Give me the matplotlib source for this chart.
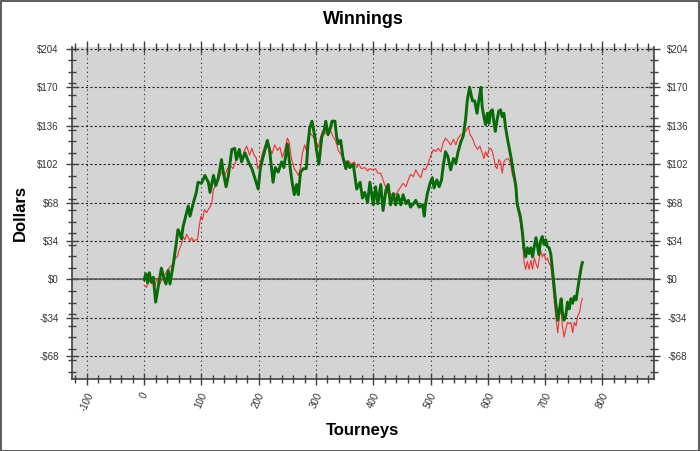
"""
Winnings chart: cumulative dollars per tourney, two series.
"""

import matplotlib
matplotlib.use('Agg')
import matplotlib.pyplot as plt
from matplotlib.patches import Rectangle
from matplotlib.ticker import MultipleLocator, FuncFormatter

plt.rcParams['font.family'] = ['Liberation Sans', 'DejaVu Sans']
plt.rcParams['axes.unicode_minus'] = False

# green series (thick) - tourney number / dollars
green_t = [0, 3, 6, 9, 12, 16, 20, 25, 30, 34, 38, 42, 45, 51, 56, 59, 62, 65, 68, 74,
           77, 80, 86, 91, 94, 100, 106, 112, 115, 121, 125, 129, 135, 138, 143, 147,
           153, 158, 161, 166, 170, 176, 182, 188, 193, 199, 203, 209, 215, 219, 225,
           229, 234, 240, 244, 250, 254, 258, 262, 266, 269, 273, 278, 283, 286, 289,
           293, 298, 301, 305, 310, 314, 317, 321, 325, 328, 333, 336, 339, 343, 347,
           352, 355, 359, 365, 371, 377, 381, 385, 390, 394, 400, 404, 408, 413, 417,
           422, 426, 430, 435, 439, 443, 448, 452, 457, 461, 465, 470, 474, 480, 486,
           489, 491, 494, 499, 503, 506, 511, 515, 519, 522, 526, 530, 535, 540, 544,
           548, 553, 557, 561, 564, 568, 573, 577, 581, 585, 588, 590, 593, 596, 599,
           602, 605, 608, 611, 613, 616, 619, 622, 625, 628, 631, 634, 637, 640, 643,
           646, 649, 651, 654, 657, 660, 663, 666, 669, 672, 675, 678, 681, 684, 687,
           689, 692, 695, 698, 701, 704, 707, 710, 713, 716, 719, 722, 725, 728, 730,
           733, 736, 739, 742, 745, 748, 751, 754, 757, 760, 763, 765]
green_v = [0, 5, -3, 6, -2, 2, -20, -5, 10, 2, -4, 8, -4, 14, 32, 44, 41, 36, 47, 59,
           65, 56, 68, 77, 86, 85, 92, 86, 77, 92, 83, 89, 106, 95, 82, 92,
           115, 116, 106, 115, 104, 112, 104, 98, 90, 80, 99, 111, 123, 114, 86,
           99, 95, 104, 99, 120, 102, 87, 75, 84, 75, 95, 98, 98, 120, 134,
           140, 126, 114, 102, 126, 131, 140, 128, 134, 140, 140, 126, 120, 123, 108,
           98, 104, 99, 102, 80, 86, 72, 77, 68, 86, 66, 82, 67, 84, 61,
           79, 84, 66, 76, 66, 75, 66, 75, 67, 70, 64, 67, 70, 64, 66,
           56, 66, 75, 85, 90, 81, 88, 82, 88, 100, 113, 109, 97, 107, 103,
           113, 122, 127, 141, 158, 170, 158, 158, 147, 161, 170, 153, 144, 137, 147,
           138, 149, 150, 137, 131, 141, 149, 150, 144, 147, 134, 125, 117, 109, 100,
           91, 82, 67, 61, 55, 43, 28, 20, 28, 23, 28, 20, 29, 37, 28,
           22, 34, 38, 31, 35, 29, 28, 22, 7, -8, -23, -36, -26, -17, -29,
           -36, -32, -20, -26, -17, -21, -15, -18, -8, 2, 11, 15]

# red series (thin)
red_t = [0, 4, 7, 10, 13, 16, 19, 22, 27, 33, 39, 45, 51, 54, 58, 61, 65, 68, 71, 74,
         77, 80, 83, 86, 89, 93, 96, 99, 102, 105, 109, 112, 115, 118, 121, 124, 126,
         130, 135, 141, 145, 150, 155, 161, 166, 170, 174, 179, 184, 188, 192, 196,
         198, 202, 206, 210, 215, 219, 223, 228, 233, 237, 241, 245, 250, 253, 257,
         262, 266, 269, 273, 276, 280, 283, 286, 291, 295, 299, 304, 308, 312, 317,
         321, 326, 330, 334, 339, 343, 347, 352, 356, 362, 367, 371, 375, 379, 385,
         390, 394, 400, 404, 408, 413, 417, 422, 426, 430, 435, 439, 443, 448, 452,
         457, 461, 465, 470, 474, 478, 483, 487, 491, 496, 500, 505, 509, 513, 518,
         522, 526, 531, 535, 540, 544, 548, 553, 557, 561, 566, 569, 573, 577, 582,
         586, 590, 593, 596, 599, 602, 605, 608, 611, 613, 616, 619, 622, 625, 628,
         631, 634, 637, 640, 643, 646, 649, 651, 654, 657, 660, 663, 666, 669, 672,
         675, 678, 681, 684, 687, 689, 692, 695, 698, 701, 704, 707, 710, 713, 716,
         719, 722, 725, 728, 730, 733, 736, 739, 742, 745, 748, 751, 754, 757, 760,
         763, 765]
red_v = [-5, -7, -2, 1, -4, -2, -6, 1, -4, 1, 7, 11, 14, 19, 20, 26, 31, 38, 35, 40,
         37, 34, 37, 34, 35, 35, 47, 56, 53, 62, 59, 62, 64, 68, 80, 82, 86,
         89, 95, 92, 98, 101, 98, 106, 110, 104, 113, 118, 110, 116, 110, 107,
         98, 102, 111, 117, 123, 117, 111, 119, 114, 117, 108, 114, 125, 122, 107,
         98, 95, 92, 99, 111, 119, 114, 126, 129, 126, 123, 117, 126, 132, 129,
         132, 131, 126, 123, 114, 111, 108, 104, 105, 102, 104, 99, 102, 98, 99,
         96, 98, 97, 98, 94, 94, 88, 81, 76, 75, 76, 75, 78, 82, 85,
         82, 88, 93, 91, 97, 93, 90, 98, 97, 103, 109, 115, 113, 116, 113,
         121, 125, 122, 119, 124, 119, 125, 128, 129, 131, 135, 128, 125, 119, 115,
         118, 112, 107, 113, 109, 115, 116, 113, 106, 100, 98, 106, 104, 94, 104,
         106, 107, 106, 101, 92, 88, 77, 67, 58, 50, 37, 16, 9, 16, 9,
         17, 9, 19, 14, 10, 16, 26, 20, 23, 17, 19, 14, 12, -2, -20,
         -35, -47, -32, -26, -41, -51, -44, -38, -39, -38, -47, -38, -41, -32, -29,
         -20, -17]

y_ticks = [-68, -34, 0, 34, 68, 102, 136, 170, 204]
x_ticks = [-100, 0, 100, 200, 300, 400, 500, 600, 700, 800]

GREEN = '#086b08'
RED = '#f03030'
PLOT_BG = '#d4d4d4'
TICK_COLOR = '#404040'


def dollars(v, pos):
    v = int(round(v))
    return f'-${-v}' if v < 0 else f'${v}'


fig = plt.figure(figsize=(7.0, 4.51), dpi=100)
fig.patch.set_facecolor('white')
fig.patches.append(Rectangle((0.001, 0.001), 0.997, 0.997, transform=fig.transFigure,
                             fill=False, edgecolor='#404040', lw=1.2))

ax = fig.add_axes([72 / 700, 1 - 379 / 451, 582 / 700, 332 / 451])
ax.set_facecolor(PLOT_BG)

ax.plot(red_t, red_v, color=RED, lw=0.8, zorder=3)
ax.plot(green_t, green_v, color=GREEN, lw=2.1, zorder=4)
ax.axhline(0, color='#555555', lw=1.1, zorder=2)

ax.set_xlim(-126, 890)
ax.set_ylim(-88, 205.6)

ax.set_xticks(x_ticks)
ax.xaxis.set_minor_locator(MultipleLocator(20))
ax.set_yticks(y_ticks)
ax.yaxis.set_minor_locator(MultipleLocator(10.2))
ax.yaxis.set_major_formatter(FuncFormatter(dollars))

ax.grid(axis='x', which='major', color='#222222', linestyle=(0, (1, 3)), lw=0.8)
ax.grid(axis='y', which='major', color='#222222', linestyle=(0, (2, 2)), lw=0.8)

ax.tick_params(which='both', direction='inout', color=TICK_COLOR, labelcolor='#333333',
               labelsize=7, top=True, right=True, labelright=True)
ax.tick_params(which='major', length=9, width=1)
ax.tick_params(which='minor', length=6, width=1)
ax.tick_params(axis='x', which='major', pad=4)
ax.tick_params(axis='y', which='major', pad=5)
for lbl in ax.get_xticklabels():
    lbl.set_rotation(65)

for side in ['left', 'bottom', 'right']:
    ax.spines[side].set_color('#404040')
    ax.spines[side].set_linewidth(1.2)
ax.spines['top'].set_visible(False)

fig.text(363 / 700, 1 - 20 / 451, 'Winnings', ha='center', va='center',
         fontsize=13, fontweight='bold')
fig.text(363 / 700, 1 - 430 / 451, 'Tourneys', ha='center', va='center',
         fontsize=12, fontweight='bold')
fig.text(20 / 700, 1 - 213 / 451, 'Dollars', ha='center', va='center',
         fontsize=12, fontweight='bold', rotation=90)

fig.savefig('out.png', dpi=100)
